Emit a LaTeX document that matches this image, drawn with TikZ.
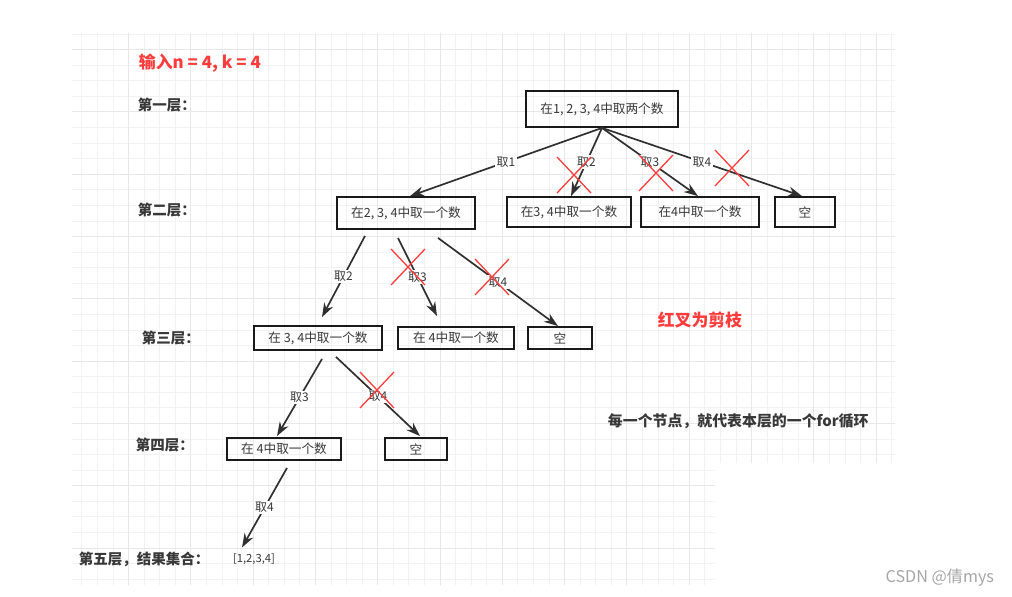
\documentclass[tikz,border=0pt]{standalone}
\usepackage{fontspec}
\setmainfont{Noto Sans CJK SC}
\usetikzlibrary{arrows.meta, calc}

\definecolor{gridminor}{HTML}{F2F2F2}
\definecolor{gridmajor}{HTML}{E8E8E8}
\definecolor{edgegray}{HTML}{303030}
\definecolor{boxline}{HTML}{1A1A1A}
\definecolor{txtgray}{HTML}{383838}
\definecolor{pruned}{HTML}{FF3B3B}
\definecolor{markgray}{HTML}{A6A6A6}

\tikzset{
  box/.style={draw=boxline, line width=1.3pt, inner sep=0pt, text=txtgray,
    font=\fontsize{9}{11}\selectfont},
  arr/.style={draw=edgegray, line width=1.2pt, -{Stealth[length=10pt, width=7pt]}},
  lbl/.style={fill=white, inner sep=1pt, text=txtgray, font=\fontsize{8.5}{10}\selectfont},
  layer/.style={anchor=west, text=txtgray, font=\bfseries\fontsize{10.3}{12}\selectfont},
  note/.style={text=txtgray, font=\bfseries\fontsize{10.6}{12}\selectfont},
  redx/.pic={\draw[pruned, line width=0.9pt] (-17,-18) -- (17,18) (-17,18) -- (17,-18);}
}

\begin{document}
\begin{tikzpicture}[x=0.025cm, y=-0.025cm]
  \useasboundingbox (0,0) rectangle (1012,597);

  % squared paper behind the tree
  \begin{scope}
    \clip (72,33) -| (895,463) -| (715,585) -| cycle;
    \foreach \i in {0,...,54}
      \draw[gridminor, line width=0.6pt] ({66.2+15.575*\i},0) -- ++(0,597);
    \foreach \i in {0,...,40}
      \draw[gridminor, line width=0.6pt] (0,{-12.7+15.575*\i}) -- ++(1012,0);
    \foreach \i in {0,...,14}
      \draw[gridmajor, line width=0.7pt] ({66.2+62.3*\i},0) -- ++(0,597);
    \foreach \i in {0,...,10}
      \draw[gridmajor, line width=0.7pt] (0,{-12.7+62.3*\i}) -- ++(1012,0);
  \end{scope}

  \node[anchor=west, text=pruned, font=\bfseries\fontsize{12}{14}\selectfont] (title) at (134,63) {输入n = 4, k = 4};

  \node[layer] (lv1) at (133,105) {第一层：};
  \node[layer] (lv2) at (133,210) {第二层：};
  \node[layer] (lv3) at (137,338) {第三层：};
  \node[layer] (lv4) at (131,445) {第四层：};
  \node[layer] (lv5) at (74,559) {第五层，结果集合：};

  % level 1 and 2
  \node[box, minimum width=3.78cm, minimum height=0.9cm] (root) at (602,109) {在1, 2, 3, 4中取两个数};
  \node[box, minimum width=3.45cm, minimum height=0.8cm] (c234) at (406,213) {在2, 3, 4中取一个数};
  \node[box, minimum width=3.1cm, minimum height=0.75cm] (c34) at (569,212) {在3, 4中取一个数};
  \node[box, minimum width=2.93cm, minimum height=0.75cm] (c4) at (700,212) {在4中取一个数};
  \node[box, minimum width=1.5cm, minimum height=0.75cm] (c0) at (805,212) {空};

  % level 3
  \node[box, minimum width=3.18cm, minimum height=0.6cm] (d34) at (318,338) {在 3, 4中取一个数};
  \node[box, minimum width=2.88cm, minimum height=0.55cm] (d4) at (456,338) {在 4中取一个数};
  \node[box, minimum width=1.58cm, minimum height=0.55cm] (d0) at (560,338) {空};

  % level 4 and 5
  \node[box, minimum width=2.85cm, minimum height=0.55cm] (e4) at (284,449) {在 4中取一个数};
  \node[box, minimum width=1.55cm, minimum height=0.55cm] (e0) at (416,449) {空};
  \node[text=txtgray, font=\fontsize{8}{10}\selectfont] (res) at (254,559) {[1,2,3,4]};

  \draw[arr] (root.south) -- node[lbl] {取1} ($(c234.north)+(4,0)$);
  \draw[arr] (root.south) -- node[lbl] {取2} ($(c34.north)+(2,0)$);
  \draw[arr] (root.south) -- node[lbl] {取3} ($(c4.north)+(-2,0)$);
  \draw[arr] (root.south) -- node[lbl] {取4} ($(c0.north)+(-3,0)$);

  \draw[arr] ($(c234.south)+(-41,6)$) -- node[lbl] {取2} ($(d34.north)+(4,-8)$);
  \draw[arr] ($(c234.south)+(-8,8)$) -- node[lbl] {取3} ($(d4.north)+(-19,-10)$);
  \draw[arr] ($(c234.south)+(32,8)$) -- node[lbl] {取4} ($(d0.north)+(-2,0)$);

  \draw[arr] ($(d34.south)+(4,8)$) -- node[lbl] {取3} ($(e4.north)+(-7,-1)$);
  \draw[arr] ($(d34.south)+(18,6)$) -- node[lbl] {取4} ($(e0.north)+(4,-1)$);

  \draw[arr] ($(e4.south)+(3,7)$) -- node[lbl] {取4} ($(res.north)+(-12,-1)$);

  % pruned branches
  \pic at (574,175) {redx};
  \pic at (656,173) {redx};
  \pic at (732,168) {redx};
  \pic at (408,267) {redx};
  \pic at (492,277) {redx};
  \pic at (377,390) {redx};

  \node[note, text=pruned, font=\bfseries\fontsize{12}{14}\selectfont] (hint) at (700,320) {红叉为剪枝};
  \node[note, anchor=west] (rule) at (603,421) {每一个节点，就代表本层的一个for循环};

  \node[anchor=east, text=markgray, font=\fontsize{11.5}{13}\selectfont] (mark) at (999,578) {CSDN @倩mys};
\end{tikzpicture}
\end{document}
